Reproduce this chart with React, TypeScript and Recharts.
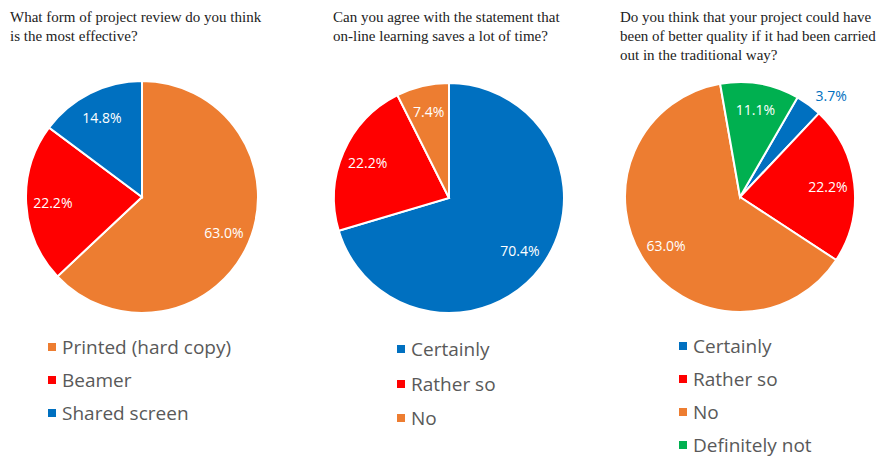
import { PieChart, Pie, Cell, Legend } from "recharts"

// chart 1
const reviewNames = ["Printed (hard copy)", "Beamer", "Shared screen"]
const reviewValues = [63.0, 22.2, 14.8]
const reviewColors = ["#ED7D31", "#FF0000", "#0070C0"]

// chart 2
const timeNames = ["Certainly", "Rather so", "No"]
const timeValues = [70.4, 22.2, 7.4]
const timeColors = ["#0070C0", "#FF0000", "#ED7D31"]

// chart 3
const qualityNames = ["Certainly", "Rather so", "No", "Definitely not"]
const qualityValues = [3.7, 22.2, 63.0, 11.1]
const qualityColors = ["#0070C0", "#FF0000", "#ED7D31", "#00B050"]

const RAD = Math.PI / 180
const labelFont = "'Open Sans', 'Noto Sans', sans-serif"

interface ChartBoxProps {
  title: string[]
  names: string[]
  values: number[]
  colors: string[]
  left: number
  titleLeft: number
  cx: number
  cy: number
  r: number
  startAngle: number
  legendLeft: number
  legendTop: number
  rowHeight: number
}

function renderLabel(colors: string[]) {
  return (props: any) => {
    const { cx, cy, midAngle, outerRadius, value, index } = props
    const small = value < 5
    const rr = small ? outerRadius * 1.1 : outerRadius * 0.77
    const x = cx + rr * Math.cos(-midAngle * RAD)
    const y = cy + rr * Math.sin(-midAngle * RAD)
    return (
      <text
        x={x}
        y={y}
        fill={small ? colors[index] : "#ffffff"}
        textAnchor={small ? "start" : "middle"}
        dominantBaseline="central"
        fontFamily={labelFont}
        fontSize={14}
      >
        {value.toFixed(1)}%
      </text>
    )
  }
}

function ChartBox(p: ChartBoxProps) {
  const data = p.names.map((name, i) => ({ name, value: p.values[i] }))
  return (
    <>
      <div
        style={{
          position: "absolute",
          left: p.titleLeft,
          top: 8,
          fontFamily: "'Liberation Serif', 'DejaVu Serif', serif",
          fontSize: 15,
          lineHeight: "19px",
          color: "#222",
          whiteSpace: "nowrap",
        }}
      >
        {p.title.map((t) => (
          <div key={t}>{t}</div>
        ))}
      </div>
      <div style={{ position: "absolute", left: p.left, top: 0 }}>
        <PieChart width={293} height={457} margin={{ top: 0, right: 0, bottom: 0, left: 0 }}>
          <Pie
            data={data}
            dataKey="value"
            nameKey="name"
            cx={p.cx}
            cy={p.cy}
            outerRadius={p.r}
            startAngle={p.startAngle}
            endAngle={p.startAngle - 360}
            stroke="#ffffff"
            strokeWidth={2}
            label={renderLabel(p.colors)}
            labelLine={false}
            isAnimationActive={false}
          >
            {data.map((d, i) => (
              <Cell key={d.name} fill={p.colors[i]} />
            ))}
          </Pie>
          <Legend
            verticalAlign="bottom"
            wrapperStyle={{ top: p.legendTop, left: p.legendLeft, bottom: "auto", width: "auto" }}
            content={() => (
              <div>
                {p.names.map((n, i) => (
                  <div
                    key={n}
                    style={{
                      display: "flex",
                      alignItems: "center",
                      height: p.rowHeight,
                      fontFamily: labelFont,
                      fontSize: 19,
                      color: "#595959",
                      whiteSpace: "nowrap",
                    }}
                  >
                    <span
                      style={{
                        display: "inline-block",
                        width: 8,
                        height: 8,
                        background: p.colors[i],
                        marginRight: 6,
                      }}
                    />
                    {n}
                  </div>
                ))}
              </div>
            )}
          />
        </PieChart>
      </div>
    </>
  )
}

export default function App() {
  return (
    <div
      style={{
        position: "absolute",
        left: 0,
        top: 0,
        width: 883,
        height: 457,
        background: "#ffffff",
        overflow: "hidden",
      }}
    >
      <ChartBox
        title={["What form of project review do you think", "is the most effective?"]}
        names={reviewNames}
        values={reviewValues}
        colors={reviewColors}
        left={0}
        titleLeft={10}
        cx={142}
        cy={197}
        r={116}
        startAngle={90}
        legendLeft={48}
        legendTop={330}
        rowHeight={33.3}
      />
      <ChartBox
        title={["Can you agree with the statement that", "on-line learning saves a lot of time?"]}
        names={timeNames}
        values={timeValues}
        colors={timeColors}
        left={300}
        titleLeft={333}
        cx={149}
        cy={198}
        r={115}
        startAngle={90}
        legendLeft={97}
        legendTop={332}
        rowHeight={34.5}
      />
      <ChartBox
        title={[
          "Do you think that your project could have",
          "been of better quality if it had been carried",
          "out in the traditional way?",
        ]}
        names={qualityNames}
        values={qualityValues}
        colors={qualityColors}
        left={590}
        titleLeft={620}
        cx={150}
        cy={197}
        r={115}
        startAngle={60}
        legendLeft={89}
        legendTop={329}
        rowHeight={33}
      />
    </div>
  )
}
